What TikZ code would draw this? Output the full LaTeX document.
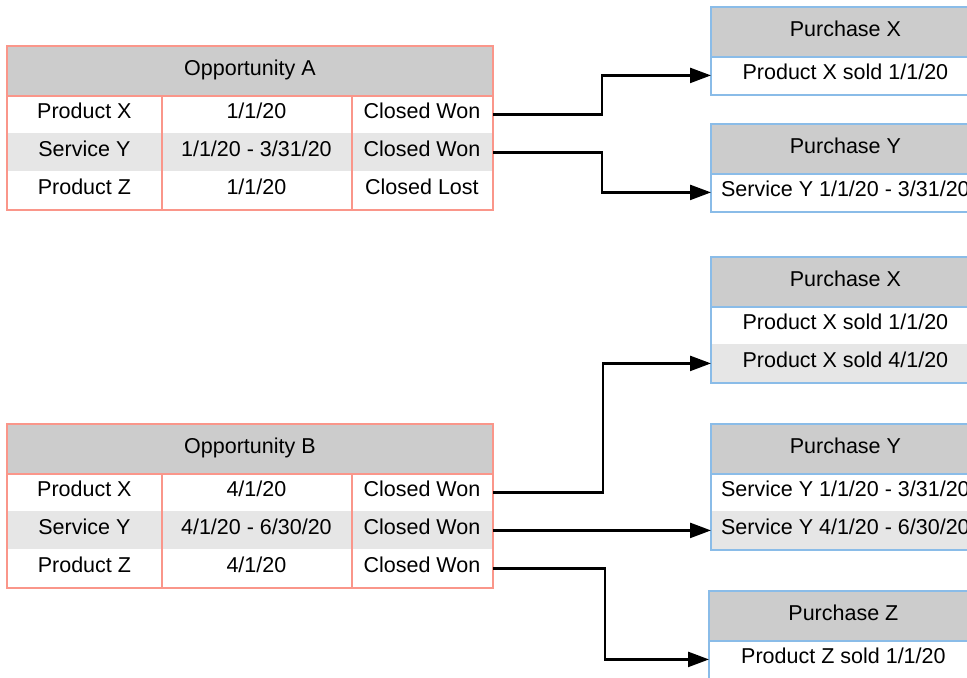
\documentclass[tikz,border=0pt]{standalone}
\usepackage{fontspec}
\setmainfont{Liberation Sans}
\usetikzlibrary{arrows.meta}
\definecolor{oppred}{RGB}{250,150,138}
\definecolor{purblue}{RGB}{138,188,232}
\definecolor{headgray}{RGB}{204,204,204}
\definecolor{rowgray}{RGB}{230,230,230}
\begin{document}
\begin{tikzpicture}[
    x=0.5pt, y=-0.5pt,
    cell/.style={anchor=north west, inner sep=0pt, minimum height=19pt, text height=7.7pt, text depth=3.3pt, font=\fontsize{10.75}{13}\selectfont},
    head/.style={cell, fill=headgray, minimum height=24.5pt},
    shade/.style={fill=rowgray},
    oppframe/.style={draw=oppred, line width=1.2pt},
    purframe/.style={draw=purblue, line width=1.2pt},
    link/.style={draw, line width=1.2pt, -{Triangle[length=10.5pt,width=7.5pt]}}
]
\useasboundingbox (0,0) rectangle (967,677);
\clip (0,0) rectangle (967,677);

% opportunity A
\node[head, minimum width=242.5pt] (oa-h) at (7,46) {Opportunity A};
\node[cell, minimum width=77pt] (oa-1a) at (7,95) {Product X};
\node[cell, minimum width=95pt] (oa-1b) at (161,95) {1/1/20};
\node[cell, minimum width=70.5pt] (oa-1c) at (351,95) {Closed Won};
\node[cell, shade, minimum width=77pt] (oa-2a) at (7,133) {Service Y};
\node[cell, shade, minimum width=95pt] (oa-2b) at (161,133) {1/1/20 - 3/31/20};
\node[cell, shade, minimum width=70.5pt] (oa-2c) at (351,133) {Closed Won};
\node[cell, minimum width=77pt] (oa-3a) at (7,171) {Product Z};
\node[cell, minimum width=95pt] (oa-3b) at (161,171) {1/1/20};
\node[cell, minimum width=70.5pt] (oa-3c) at (351,171) {Closed Lost};
\draw[oppframe] (oa-h.north west) rectangle (oa-3c.south east);
\draw[oppframe] (oa-h.south west) -- (oa-h.south east);
\draw[oppframe] (oa-1a.north east) -- (oa-3a.south east);
\draw[oppframe] (oa-1b.north east) -- (oa-3b.south east);

% opportunity B
\node[head, minimum width=242.5pt] (ob-h) at (7,424) {Opportunity B};
\node[cell, minimum width=77pt] (ob-1a) at (7,473) {Product X};
\node[cell, minimum width=95pt] (ob-1b) at (161,473) {4/1/20};
\node[cell, minimum width=70.5pt] (ob-1c) at (351,473) {Closed Won};
\node[cell, shade, minimum width=77pt] (ob-2a) at (7,511) {Service Y};
\node[cell, shade, minimum width=95pt] (ob-2b) at (161,511) {4/1/20 - 6/30/20};
\node[cell, shade, minimum width=70.5pt] (ob-2c) at (351,511) {Closed Won};
\node[cell, minimum width=77pt] (ob-3a) at (7,549) {Product Z};
\node[cell, minimum width=95pt] (ob-3b) at (161,549) {4/1/20};
\node[cell, minimum width=70.5pt] (ob-3c) at (351,549) {Closed Won};
\draw[oppframe] (ob-h.north west) rectangle (ob-3c.south east);
\draw[oppframe] (ob-h.south west) -- (ob-h.south east);
\draw[oppframe] (ob-1a.north east) -- (ob-3a.south east);
\draw[oppframe] (ob-1b.north east) -- (ob-3b.south east);

% purchases
\node[head, minimum width=134pt] (pxa-h) at (711,7) {Purchase X};
\node[cell, minimum width=134pt] (pxa-1) at (711,56) {Product X sold 1/1/20};
\draw[purframe] (pxa-h.north west) rectangle (pxa-1.south east);
\draw[purframe] (pxa-h.south west) -- (pxa-h.south east);

\node[head, minimum width=134pt] (pya-h) at (711,124) {Purchase Y};
\node[cell, minimum width=134pt] (pya-1) at (711,173) {Service Y 1/1/20 - 3/31/20};
\draw[purframe] (pya-h.north west) rectangle (pya-1.south east);
\draw[purframe] (pya-h.south west) -- (pya-h.south east);

\node[head, minimum width=134pt] (pxb-h) at (711,257) {Purchase X};
\node[cell, minimum width=134pt] (pxb-1) at (711,306) {Product X sold 1/1/20};
\node[cell, shade, minimum width=134pt] (pxb-2) at (711,344) {Product X sold 4/1/20};
\draw[purframe] (pxb-h.north west) rectangle (pxb-2.south east);
\draw[purframe] (pxb-h.south west) -- (pxb-h.south east);

\node[head, minimum width=134pt] (pyb-h) at (711,424) {Purchase Y};
\node[cell, minimum width=134pt] (pyb-1) at (711,473) {Service Y 1/1/20 - 3/31/20};
\node[cell, shade, minimum width=134pt] (pyb-2) at (711,511) {Service Y 4/1/20 - 6/30/20};
\draw[purframe] (pyb-h.north west) rectangle (pyb-2.south east);
\draw[purframe] (pyb-h.south west) -- (pyb-h.south east);

\node[head, minimum width=134pt] (pz-h) at (709,591) {Purchase Z};
\node[cell, minimum width=134pt] (pz-1) at (709,640) {Product Z sold 1/1/20};
\draw[purframe] (pz-h.north west) rectangle (pz-1.south east);
\draw[purframe] (pz-h.south west) -- (pz-h.south east);

% links
\draw[link] (oa-1c.east) -- ++(109,0) |- (pxa-1.west);
\draw[link] (oa-2c.east) -- ++(109,0) |- (pya-1.west);
\draw[link] (ob-1c.east) -- ++(110,0) |- (pxb-2.west);
\draw[link] (ob-2c.east) -- (pyb-2.west);
\draw[link] (ob-3c.east) -- ++(112,0) |- (pz-1.west);
\end{tikzpicture}
\end{document}
